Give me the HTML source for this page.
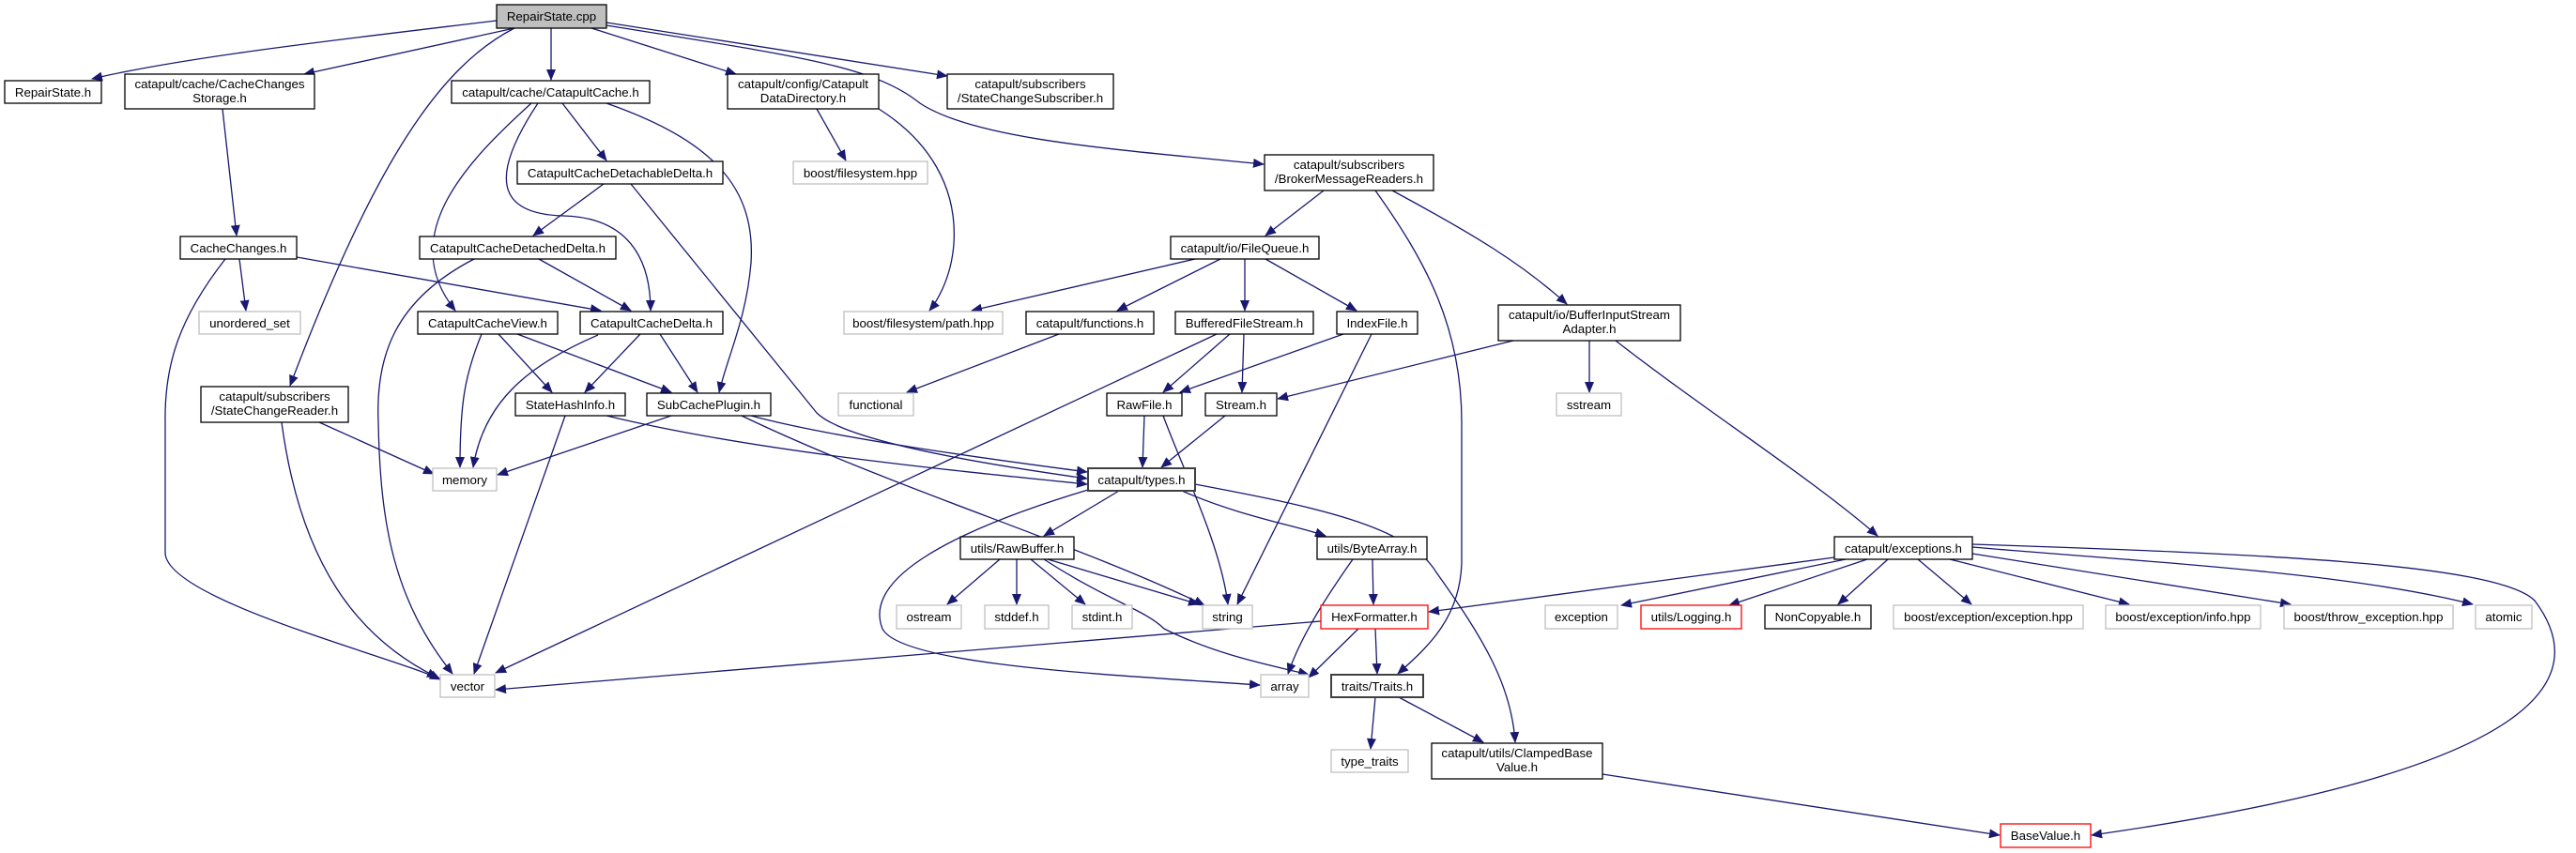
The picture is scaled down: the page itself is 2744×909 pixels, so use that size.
<!DOCTYPE html>
<html><head><meta charset="utf-8"><style>
html,body{margin:0;padding:0;background:#fff;}
svg{display:block;}
text{font-family:"Liberation Sans",Arial,sans-serif;font-size:13.3px;fill:#000;text-anchor:middle;}
.e{fill:none;stroke:#191970;stroke-width:1.3;marker-end:url(#a);}
.n{fill:#fff;stroke:#000;stroke-width:1.3;}
.g{fill:#fff;stroke:#bfbfbf;stroke-width:1.3;}
.r{fill:#fff;stroke:#ff0000;stroke-width:1.3;}
.d{fill:#fff;stroke:#404040;stroke-width:2;}
</style></head><body>
<svg width="2744" height="909" viewBox="0 0 2744 909" xmlns="http://www.w3.org/2000/svg">
<defs><marker id="a" markerWidth="12" markerHeight="10" refX="11" refY="5" orient="auto" markerUnits="userSpaceOnUse"><path d="M0,0 L12,5 L0,10 z" fill="#191970"/></marker></defs>
<!-- edges -->
<path class="e" d="M529,22 C 380,40 200,60 98,84"/>
<path class="e" d="M548,30 L324,79"/>
<path class="e" d="M548,30 C 470,70 400,170 309,411"/>
<path class="e" d="M587,30 L587,85"/>
<path class="e" d="M630,30 L784,79"/>
<path class="e" d="M646,24 L1009,81"/>
<path class="e" d="M646,27 C 850,60 930,70 980,110 C 1040,150 1200,160 1346,175"/>
<path class="e" d="M237,116 L252,251"/>
<path class="e" d="M566,110 C 500,170 420,250 485,331"/>
<path class="e" d="M573,110 C 520,190 530,228 600,230 C 680,232 693,290 693,331"/>
<path class="e" d="M599,110 L646,171"/>
<path class="e" d="M646,110 C 760,150 805,200 800,280 C 795,340 775,380 766,418"/>
<path class="e" d="M643,196 L568,251"/>
<path class="e" d="M672,196 L870,440 C 900,470 1050,495 1158,510"/>
<path class="e" d="M574,276 L672,331"/>
<path class="e" d="M505,276 C 420,320 400,380 403,450 C 405,560 420,640 482,718"/>
<path class="e" d="M255,276 L262,331"/>
<path class="e" d="M316,274 L640,331"/>
<path class="e" d="M240,276 C 190,340 175,390 176,450 L 176,590 C 180,640 420,700 469,724"/>
<path class="e" d="M513,356 C 495,400 490,430 490,498"/>
<path class="e" d="M531,356 L588,418"/>
<path class="e" d="M551,356 L715,418"/>
<path class="e" d="M637,357 C 560,390 515,430 504,498"/>
<path class="e" d="M682,356 L623,418"/>
<path class="e" d="M703,356 L743,418"/>
<path class="e" d="M340,450 L462,505"/>
<path class="e" d="M300,450 C 320,600 380,680 466,722"/>
<path class="e" d="M602,443 L505,718"/>
<path class="e" d="M646,443 C 800,480 1000,500 1158,516"/>
<path class="e" d="M715,443 L530,506"/>
<path class="e" d="M800,443 C 900,470 1100,495 1158,503"/>
<path class="e" d="M790,443 C 950,520 1150,580 1283,645"/>
<path class="e" d="M870,116 L901,171"/>
<path class="e" d="M936,116 C 990,150 1020,200 1016,260 C 1013,300 995,325 990,331"/>
<path class="e" d="M1410,203 L1348,251"/>
<path class="e" d="M1465,203 C 1520,280 1557,350 1557,450 L 1557,600 C 1555,660 1520,690 1489,718"/>
<path class="e" d="M1483,203 C 1570,250 1620,280 1669,324"/>
<path class="e" d="M1273,276 L1035,331"/>
<path class="e" d="M1300,276 L1190,331"/>
<path class="e" d="M1326,276 L1326,331"/>
<path class="e" d="M1348,276 L1445,331"/>
<path class="e" d="M1128,356 L966,418"/>
<path class="e" d="M1296,356 L528,717"/>
<path class="e" d="M1310,356 L1239,418"/>
<path class="e" d="M1325,356 L1323,418"/>
<path class="e" d="M1431,356 L1257,418"/>
<path class="e" d="M1461,356 L1318,644"/>
<path class="e" d="M1219,443 L1217,498"/>
<path class="e" d="M1239,443 C 1260,500 1300,580 1308,644"/>
<path class="e" d="M1305,443 L1237,498"/>
<path class="e" d="M1612,363 L1361,425"/>
<path class="e" d="M1693,363 L1693,418"/>
<path class="e" d="M1721,363 C 1820,440 1930,510 2000,571"/>
<path class="e" d="M1192,523 L1112,571"/>
<path class="e" d="M1259,523 C 1320,550 1380,560 1412,571"/>
<path class="e" d="M1159,522 C 1000,570 920,620 940,670 C 960,710 1200,720 1342,730"/>
<path class="e" d="M1273,516 C 1400,540 1500,560 1530,610 C 1580,680 1610,730 1614,791"/>
<path class="e" d="M1065,596 L1009,644"/>
<path class="e" d="M1083,596 L1083,644"/>
<path class="e" d="M1098,596 L1156,644"/>
<path class="e" d="M1116,596 L1277,644"/>
<path class="e" d="M1112,596 C 1180,640 1220,650 1240,670 C 1300,700 1360,710 1394,719"/>
<path class="e" d="M1462,596 L1463,644"/>
<path class="e" d="M1441,596 C 1410,640 1385,680 1372,718"/>
<path class="e" d="M1407,662 L528,735"/>
<path class="e" d="M1447,670 L1394,722"/>
<path class="e" d="M1465,670 L1467,718"/>
<path class="e" d="M1465,743 L1460,798"/>
<path class="e" d="M1490,743 L1580,791"/>
<path class="e" d="M1707,825 L2130,890"/>
<path class="e" d="M1954,594 L1522,652"/>
<path class="e" d="M1966,596 L1727,645"/>
<path class="e" d="M1989,596 L1842,645"/>
<path class="e" d="M2011,596 L1958,644"/>
<path class="e" d="M2043,596 L2100,644"/>
<path class="e" d="M2077,596 L2268,644"/>
<path class="e" d="M2101,590 L2440,644"/>
<path class="e" d="M2101,583 C 2300,600 2500,610 2634,644"/>
<path class="e" d="M2101,580 C 2400,590 2660,600 2700,640 C 2760,720 2720,820 2228,890"/>
<!-- nodes -->
<rect x="529" y="5" width="117" height="25" fill="#bfbfbf" stroke="#000" stroke-width="1.3"/><text x="587.5" y="22">RepairState.cpp</text>
<rect class="n" x="5" y="86" width="103" height="24"/><text x="56.5" y="103">RepairState.h</text>
<rect class="n" x="133" y="79" width="202" height="37"/><text x="234" y="94">catapult/cache/CacheChanges</text><text x="234" y="109">Storage.h</text>
<rect class="n" x="481" y="86" width="211" height="24"/><text x="586.5" y="103">catapult/cache/CatapultCache.h</text>
<rect class="n" x="775" y="79" width="161" height="37"/><text x="855.5" y="94">catapult/config/Catapult</text><text x="855.5" y="109">DataDirectory.h</text>
<rect class="n" x="1009" y="79" width="177" height="37"/><text x="1097.5" y="94">catapult/subscribers</text><text x="1097.5" y="109">/StateChangeSubscriber.h</text>
<rect class="n" x="551" y="172" width="219" height="24"/><text x="660.5" y="189">CatapultCacheDetachableDelta.h</text>
<rect class="g" x="845" y="172" width="143" height="24"/><text x="916.5" y="189">boost/filesystem.hpp</text>
<rect class="n" x="1347" y="165" width="180" height="38"/><text x="1437" y="180">catapult/subscribers</text><text x="1437" y="195">/BrokerMessageReaders.h</text>
<rect class="n" x="192" y="252" width="124" height="24"/><text x="254" y="269">CacheChanges.h</text>
<rect class="n" x="447" y="252" width="209" height="24"/><text x="551.5" y="269">CatapultCacheDetachedDelta.h</text>
<rect class="n" x="1247" y="252" width="158" height="24"/><text x="1326" y="269">catapult/io/FileQueue.h</text>
<rect class="g" x="212" y="332" width="108" height="24"/><text x="266" y="349">unordered_set</text>
<rect class="n" x="445" y="332" width="149" height="24"/><text x="519.5" y="349">CatapultCacheView.h</text>
<rect class="n" x="618" y="332" width="152" height="24"/><text x="694" y="349">CatapultCacheDelta.h</text>
<rect class="g" x="899" y="332" width="169" height="24"/><text x="983.5" y="349">boost/filesystem/path.hpp</text>
<rect class="n" x="1093" y="332" width="136" height="24"/><text x="1161" y="349">catapult/functions.h</text>
<rect class="n" x="1252" y="332" width="147" height="24"/><text x="1325.5" y="349">BufferedFileStream.h</text>
<rect class="n" x="1424" y="332" width="86" height="24"/><text x="1467" y="349">IndexFile.h</text>
<rect class="n" x="1596" y="325" width="194" height="38"/><text x="1693" y="340">catapult/io/BufferInputStream</text><text x="1693" y="355">Adapter.h</text>
<rect class="n" x="214" y="412" width="157" height="38"/><text x="292.5" y="427">catapult/subscribers</text><text x="292.5" y="442">/StateChangeReader.h</text>
<rect class="n" x="549" y="419" width="117" height="24"/><text x="607.5" y="436">StateHashInfo.h</text>
<rect class="n" x="689" y="419" width="132" height="24"/><text x="755" y="436">SubCachePlugin.h</text>
<rect class="g" x="893" y="419" width="80" height="24"/><text x="933" y="436">functional</text>
<rect class="n" x="1179" y="419" width="80" height="24"/><text x="1219" y="436">RawFile.h</text>
<rect class="n" x="1284" y="419" width="76" height="24"/><text x="1322" y="436">Stream.h</text>
<rect class="g" x="1658" y="419" width="69" height="24"/><text x="1692.5" y="436">sstream</text>
<rect class="g" x="461" y="499" width="68" height="24"/><text x="495" y="516">memory</text>
<rect class="d" x="1159" y="499" width="114" height="24"/><text x="1216" y="516">catapult/types.h</text>
<rect class="n" x="1023" y="572" width="121" height="24"/><text x="1083.5" y="589">utils/RawBuffer.h</text>
<rect class="n" x="1403" y="572" width="117" height="24"/><text x="1461.5" y="589">utils/ByteArray.h</text>
<rect class="n" x="1954" y="572" width="147" height="24"/><text x="2027.5" y="589">catapult/exceptions.h</text>
<rect class="g" x="955" y="645" width="69" height="25"/><text x="989.5" y="662">ostream</text>
<rect class="g" x="1049" y="645" width="68" height="25"/><text x="1083" y="662">stddef.h</text>
<rect class="g" x="1142" y="645" width="64" height="25"/><text x="1174" y="662">stdint.h</text>
<rect class="g" x="1281" y="645" width="53" height="25"/><text x="1307.5" y="662">string</text>
<rect class="r" x="1407" y="645" width="114" height="25"/><text x="1464" y="662">HexFormatter.h</text>
<rect class="g" x="1646" y="645" width="77" height="25"/><text x="1684.5" y="662">exception</text>
<rect class="r" x="1748" y="645" width="107" height="25"/><text x="1801.5" y="662">utils/Logging.h</text>
<rect class="n" x="1880" y="645" width="113" height="25"/><text x="1936.5" y="662">NonCopyable.h</text>
<rect class="g" x="2017" y="645" width="202" height="25"/><text x="2118" y="662">boost/exception/exception.hpp</text>
<rect class="g" x="2243" y="645" width="165" height="25"/><text x="2325.5" y="662">boost/exception/info.hpp</text>
<rect class="g" x="2433" y="645" width="180" height="25"/><text x="2523" y="662">boost/throw_exception.hpp</text>
<rect class="g" x="2637" y="645" width="60" height="25"/><text x="2667" y="662">atomic</text>
<rect class="g" x="469" y="719" width="58" height="24"/><text x="498" y="736">vector</text>
<rect class="g" x="1343" y="719" width="51" height="24"/><text x="1368.5" y="736">array</text>
<rect class="d" x="1418" y="719" width="98" height="24"/><text x="1467" y="736">traits/Traits.h</text>
<rect class="g" x="1418" y="799" width="82" height="24"/><text x="1459" y="816">type_traits</text>
<rect class="n" x="1525" y="792" width="182" height="38"/><text x="1616" y="807">catapult/utils/ClampedBase</text><text x="1616" y="822">Value.h</text>
<rect class="r" x="2131" y="878" width="96" height="25"/><text x="2179" y="895">BaseValue.h</text>
</svg>
</body></html>
